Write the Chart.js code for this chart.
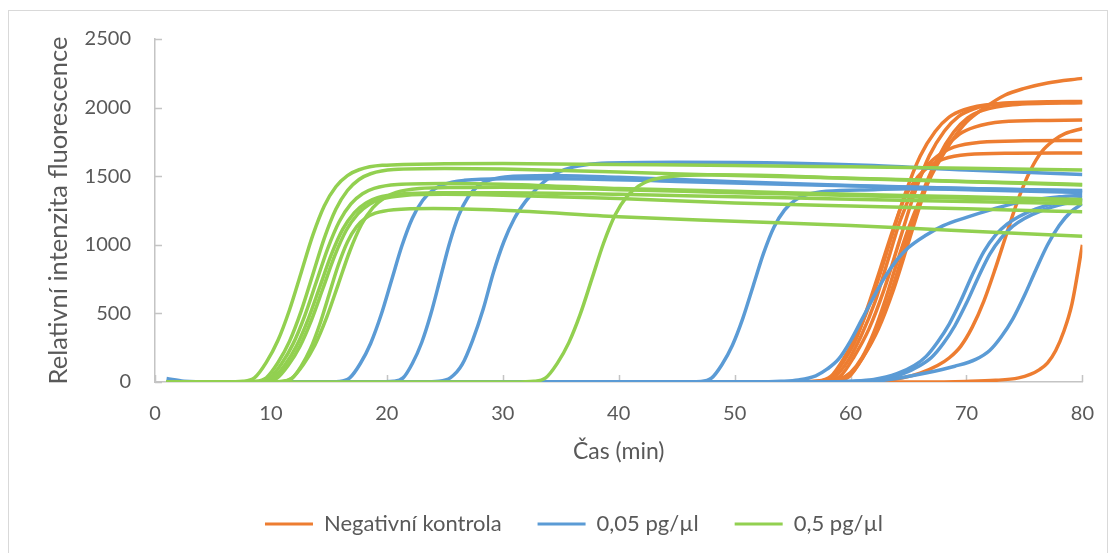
<!DOCTYPE html>
<html lang="cs">
<head>
<meta charset="utf-8">
<title>Relativní intenzita fluorescence</title>
<script src="https://cdn.jsdelivr.net/npm/chart.js@4.4.1/dist/chart.umd.min.js"></script>
<style>
  html, body { margin: 0; padding: 0; background: #ffffff; }
  #wrap { position: relative; width: 1114px; height: 553px; overflow: hidden; }
  #frame { position: absolute; left: 8px; top: 10px; width: 1100px; height: 600px;
           border: 1px solid #d9d9d9; box-sizing: border-box; }
  #chart { position: absolute; left: 0; top: 0; }
</style>
</head>
<body>
<div id="wrap">
  <div id="frame"></div>
  <canvas id="chart" width="1114" height="553"></canvas>
</div>
<script>
// Series names and colours (legend order)
const seriesNames = ['Negativní kontrola', '0,05 pg/µl', '0,5 pg/µl'];
const seriesColors = ['#ED7D31', '#5B9BD5', '#92D050'];

// Axis ranges and tick steps
const xRange = [0, 80];
const xStep = 10;
const yRange = [0, 2500];
const yStep = 500;

// Amplification curves: [time (min), relative fluorescence]
// Negativní kontrola
const neg1 = [[1,0],[55,0],[57,6],[58.3,41],[59.5,184],[60.8,388],[62.1,673],[63.4,1020],[64.7,1369],[66,1646],[67.3,1826],[68.5,1930],[69.8,1985],[72.4,2026],[76,2036],[80,2040]];
const neg2 = [[1,0],[55,0],[57.2,5],[58.3,33],[59.4,150],[60.5,317],[61.5,551],[62.6,835],[63.7,1121],[64.7,1348],[65.8,1495],[66.9,1580],[68,1625],[70.1,1658],[74,1668],[80,1670]];
const neg3 = [[1,0],[55.5,0],[57.5,5],[58.6,35],[59.8,158],[60.9,334],[62.1,581],[63.2,880],[64.3,1181],[65.5,1420],[66.6,1575],[67.8,1665],[68.9,1712],[71.2,1748],[75,1758],[80,1760]];
const neg4 = [[1,0],[57.5,0],[59,20],[60,70],[61,180],[62,360],[63,600],[64,870],[65,1120],[66,1330],[67,1510],[68,1660],[69,1790],[70,1895],[71.5,1995],[73.3,2090],[75,2140],[77,2180],[80,2213]];
const neg5 = [[1,0],[56,0],[57.8,6],[59.1,41],[60.3,184],[61.6,389],[62.9,675],[64.2,1023],[65.5,1372],[66.8,1650],[68.1,1830],[69.3,1935],[70.6,1990],[73.2,2031],[77,2042],[80,2045]];
const neg6 = [[1,0],[56.5,0],[58.5,6],[59.8,38],[61,172],[62.2,363],[63.4,630],[64.6,955],[65.8,1282],[67,1541],[68.2,1709],[69.4,1807],[70.7,1858],[73.1,1897],[77,1906],[80,1910]];
const neg7 = [[1,0],[56.5,0],[58.6,6],[59.9,41],[61.1,183],[62.4,386],[63.7,671],[65,1018],[66.3,1366],[67.6,1642],[68.9,1822],[70.1,1925],[71.4,1980],[74,2020],[80,2035]];
const neg8 = [[1,0],[61,0],[63,10],[64.5,30],[66,65],[67.5,120],[68.5,175],[69.5,260],[70.5,400],[71.5,590],[72.5,830],[73.5,1090],[74.5,1340],[75.5,1540],[76.5,1680],[77.5,1760],[78.5,1810],[80,1848]];
const neg9 = [[1,0],[66,0],[70,4],[72.5,12],[74.5,30],[75.5,55],[76.3,90],[77,140],[77.7,230],[78.4,370],[79.1,570],[80,1000]];

// 0,05 pg/µl
const low1 = [[1,25],[2.5,6],[5,0],[14.5,0],[15.9,4],[16.8,30],[17.7,133],[18.6,281],[19.5,488],[20.4,740],[21.3,993],[22.2,1194],[23.1,1325],[24,1400],[24.9,1440],[26.7,1470],[30,1482],[35,1482],[45,1462],[55,1440],[65,1420],[80,1392]];
const low2 = [[1,0],[19,0],[20.6,5],[21.4,30],[22.2,135],[23,286],[23.8,497],[24.6,753],[25.4,1010],[26.2,1215],[27,1347],[27.8,1424],[28.6,1464],[30.2,1494],[34,1505],[40,1492],[50,1460],[60,1432],[70,1410],[80,1395]];
const low3 = [[1,0],[23,0],[24.5,5],[25.5,32],[26.5,128],[27.4,304],[28.3,528],[29.2,800],[30.1,1024],[31,1192],[32,1320],[33,1416],[34,1488],[35,1536],[36.5,1574],[38.5,1594],[45,1602],[55,1595],[62,1578],[70,1545],[80,1512]];
const low4 = [[1,0],[45,0],[47.1,4],[48,28],[48.9,126],[49.8,266],[50.7,462],[51.6,700],[52.5,939],[53.4,1130],[54.3,1253],[55.2,1324],[56.1,1362],[57.9,1390],[62,1402],[65,1408],[72,1398],[80,1382]];
const low5 = [[1,0],[52,0],[54,5],[55.5,15],[57,45],[58,95],[59,170],[60,300],[61,460],[62,620],[63,770],[64,890],[65,980],[66.5,1070],[68,1140],[70,1200],[72.3,1260],[75.1,1320],[78,1350],[80,1362]];
const low6 = [[1,0],[58,0],[60,5],[62,18],[64,60],[65.5,120],[66.5,185],[67.5,290],[68.5,420],[69.5,590],[70.5,780],[71.5,950],[72.5,1070],[73.5,1150],[74.5,1205],[76,1262],[78,1312],[80,1340]];
const low7 = [[1,0],[58.5,0],[60.5,5],[62.5,18],[64.5,60],[66,120],[67,180],[68,280],[69,410],[70,575],[71,760],[72,930],[73,1050],[74,1135],[75,1192],[76.5,1250],[78.5,1300],[80,1326]];
const low8 = [[1,0],[60,0],[63,15],[66.5,66],[69,115],[70.8,165],[72,230],[73,330],[74,460],[75,630],[76,820],[77,1000],[78,1140],[79,1240],[80,1300]];

// 0,5 pg/µl
const high1 = [[1,0],[6,0],[7.6,5],[8.6,32],[9.6,143],[10.6,302],[11.6,525],[12.6,795],[13.6,1067],[14.6,1283],[15.6,1423],[16.6,1504],[17.6,1547],[19.6,1579],[25,1590],[30,1592],[40,1585],[50,1578],[60,1568],[70,1558],[80,1545]];
const high2 = [[1,0],[7,0],[8.6,5],[9.6,31],[10.6,140],[11.6,296],[12.6,515],[13.6,780],[14.6,1047],[15.6,1259],[16.6,1396],[17.6,1476],[18.6,1518],[20.6,1549],[25,1556],[30,1552],[40,1530],[50,1505],[60,1485],[70,1462],[80,1440]];
const high3 = [[1,0],[7.3,0],[8.9,4],[9.9,29],[10.9,131],[11.9,276],[12.9,479],[13.9,725],[14.9,973],[15.9,1170],[16.9,1298],[17.9,1372],[18.9,1411],[20.9,1440],[25,1447],[30,1442],[40,1410],[50,1390],[60,1368],[70,1350],[80,1330]];
const high4 = [[1,0],[9.2,0],[10.8,4],[11.8,28],[12.8,128],[13.8,270],[14.8,469],[15.8,710],[16.8,953],[17.8,1146],[18.8,1271],[19.8,1343],[20.8,1382],[22.8,1410],[26,1418],[30,1420],[40,1402],[50,1380],[60,1360],[70,1340],[80,1320]];
const high5 = [[1,0],[7.6,0],[9.2,4],[10.2,28],[11.2,124],[12.2,262],[13.2,455],[14.2,690],[15.2,926],[16.2,1114],[17.2,1235],[18.2,1305],[19.2,1343],[21.2,1370],[25,1379],[30,1380],[40,1368],[50,1350],[60,1332],[70,1316],[80,1300]];
const high6 = [[1,0],[7.9,0],[9.5,4],[10.5,27],[11.5,123],[12.5,260],[13.5,452],[14.5,685],[15.5,919],[16.5,1106],[17.5,1226],[18.5,1296],[19.5,1333],[21.5,1360],[25,1368],[30,1362],[40,1338],[50,1305],[60,1282],[70,1262],[80,1240]];
const high7 = [[1,0],[9.5,0],[11,4],[11.8,25],[12.6,114],[13.4,240],[14.2,417],[15,633],[15.8,849],[16.6,1021],[17.4,1132],[18.2,1197],[19,1231],[20.6,1256],[24,1265],[30,1252],[40,1205],[50,1172],[60,1140],[70,1100],[80,1062]];
const high8 = [[1,0],[31,0],[32.7,5],[33.7,30],[34.7,136],[35.7,287],[36.7,498],[37.7,755],[38.7,1013],[39.7,1219],[40.7,1351],[41.7,1428],[42.7,1469],[44.7,1499],[48,1510],[55,1500],[60,1484],[70,1460],[80,1435]];

const negCurves = [neg1, neg2, neg3, neg4, neg5, neg6, neg7, neg8, neg9];
const lowCurves = [low1, low2, low3, low4, low5, low6, low7, low8];
const highCurves = [high1, high2, high3, high4, high5, high6, high7, high8];

// ---- styling ----
const FONT = 'Lato, "Open Sans", "DejaVu Sans", sans-serif';
const TEXT = '#595959';
const AXIS = '#c4c4c4';

// Groups: lower "order" draws on top (green over blue over orange)
const groups = [
  { name: seriesNames[0], color: seriesColors[0], curves: negCurves, order: 3 },
  { name: seriesNames[1], color: seriesColors[1], curves: lowCurves, order: 2 },
  { name: seriesNames[2], color: seriesColors[2], curves: highCurves, order: 1 }
];

const datasets = [];
groups.forEach(g => {
  g.curves.forEach(curve => {
    datasets.push({
      label: g.name,
      data: curve.map(([x, y]) => ({ x, y })),
      borderColor: g.color,
      backgroundColor: g.color,
      borderWidth: 3.5,
      pointRadius: 0,
      pointHoverRadius: 0,
      fill: false,
      cubicInterpolationMode: 'monotone',
      order: g.order
    });
  });
});

// Short tick marks pointing into the plot area
const innerTicks = {
  id: 'innerTicks',
  beforeDatasetsDraw(chart) {
    const { ctx, chartArea, scales: { x, y } } = chart;
    ctx.save();
    ctx.strokeStyle = AXIS;
    ctx.lineWidth = 1.5;
    ctx.beginPath();
    x.ticks.forEach(t => {
      const px = Math.round(x.getPixelForValue(t.value)) + 0.5;
      ctx.moveTo(px, chartArea.bottom);
      ctx.lineTo(px, chartArea.bottom - 7);
    });
    y.ticks.forEach(t => {
      const py = Math.round(y.getPixelForValue(t.value)) + 0.5;
      ctx.moveTo(chartArea.left, py);
      ctx.lineTo(chartArea.left + 7, py);
    });
    ctx.stroke();
    ctx.restore();
  }
};

// Fixed legend band height
const legendBand = {
  id: 'legendBand',
  beforeInit(chart) {
    const fit = chart.legend.fit;
    chart.legend.fit = function () {
      fit.call(this);
      this.height = 76;
    };
  }
};

new Chart(document.getElementById('chart'), {
  type: 'line',
  data: { datasets },
  plugins: [innerTicks, legendBand],
  options: {
    responsive: false,
    animation: false,
    events: [],
    layout: { padding: { left: 34, right: 0, top: 39, bottom: 0 } },
    plugins: {
      tooltip: { enabled: false },
      legend: {
        position: 'bottom',
        labels: {
          color: TEXT,
          font: { family: FONT, size: 22 },
          boxWidth: 48,
          boxHeight: 3,
          padding: 36,
          generateLabels: () => seriesNames.map((name, i) => ({
            text: name,
            fillStyle: seriesColors[i],
            strokeStyle: seriesColors[i],
            lineWidth: 0,
            hidden: false,
            fontColor: TEXT
          }))
        }
      }
    },
    scales: {
      x: {
        type: 'linear',
        min: xRange[0],
        max: xRange[1],
        ticks: { stepSize: xStep, color: TEXT, font: { family: FONT, size: 20 }, padding: 20, maxRotation: 0,
                 callback: v => String(v) },
        grid: { display: false, drawTicks: false },
        border: { display: true, color: AXIS, width: 1.5 },
        title: { display: true, text: 'Čas (min)', color: TEXT, font: { family: FONT, size: 23 }, padding: { top: 0, bottom: 12 } },
        afterFit(scale) { scale.height = 95; }
      },
      y: {
        type: 'linear',
        min: yRange[0],
        max: yRange[1],
        ticks: { stepSize: yStep, color: TEXT, font: { family: FONT, size: 20 }, padding: 24,
                 callback: v => String(v) },
        grid: { display: false, drawTicks: false },
        border: { display: true, color: AXIS, width: 1.5 },
        title: { display: true, text: 'Relativní intenzita fluorescence', color: TEXT, font: { family: FONT, size: 25.5 }, padding: { top: 9, bottom: 0 } },
        afterFit(scale) { scale.width = 121; }
      },
      yRight: {
        type: 'linear',
        position: 'right',
        display: true,
        min: 0,
        max: 1,
        ticks: { display: false },
        grid: { display: false, drawTicks: false },
        border: { display: false },
        afterFit(scale) { scale.width = 27; }
      }
    }
  }
});
</script>
</body>
</html>
